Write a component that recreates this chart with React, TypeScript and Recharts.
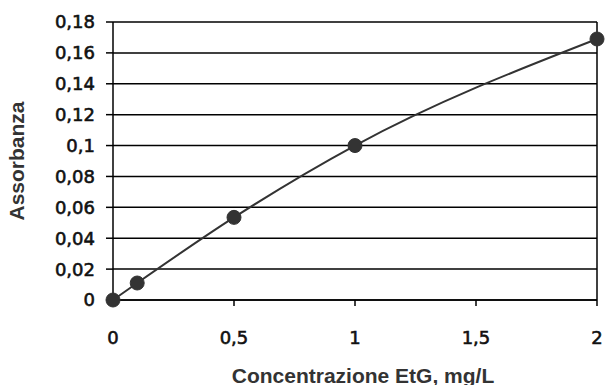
import { LineChart, Line, XAxis, YAxis, CartesianGrid, ReferenceLine, Label } from 'recharts'

// Calibration curve — absorbance vs EtG concentration

const concentrations = [0, 0.1, 0.5, 1, 2]
const absorbances = [0, 0.011, 0.0535, 0.1, 0.169]
const xTicks = [0, 0.5, 1, 1.5, 2]
const yTicks = [0, 0.02, 0.04, 0.06, 0.08, 0.1, 0.12, 0.14, 0.16, 0.18]

const data = concentrations.map((c, i) => ({ x: c, y: absorbances[i] }))

const comma = (v: number) => String(Number(v.toFixed(2))).replace('.', ',')

const tickStyle = { fontSize: 18, fill: '#111', stroke: '#111', strokeWidth: 0.6, fontFamily: 'DejaVu Sans' }
const titleStyle = { fontSize: 21, fill: '#333', fontWeight: 'bold', fontFamily: 'Liberation Sans' }

export default function App() {
  return (
    <div style={{ position: 'absolute', left: 0, top: 0, background: '#fff' }}>
      <LineChart width={606} height={385} data={data} margin={{ top: 22, right: 9, left: 0, bottom: 0 }}>
        <CartesianGrid vertical={false} stroke="#000" strokeWidth={1.5} />
        <ReferenceLine x={2} stroke="#000" strokeWidth={1.5} />
        <XAxis
          dataKey="x"
          type="number"
          domain={[0, 2]}
          ticks={xTicks}
          tickFormatter={comma}
          tick={tickStyle}
          stroke="#000"
          strokeWidth={1.5}
          tickSize={6}
          tickMargin={25}
          height={85}
        >
          <Label value="Concentrazione EtG, mg/L" position="insideBottom" offset={2} dx={8} style={titleStyle} />
        </XAxis>
        <YAxis
          type="number"
          domain={[0, 0.18]}
          ticks={yTicks}
          tickFormatter={comma}
          tick={tickStyle}
          stroke="#000"
          strokeWidth={1.5}
          tickSize={7}
          tickMargin={11}
          width={113}
        >
          <Label value="Assorbanza" angle={-90} position="insideLeft" offset={24} dx={-7} style={{ ...titleStyle, textAnchor: 'middle' }} />
        </YAxis>
        <Line
          type="monotone"
          dataKey="y"
          stroke="#333"
          strokeWidth={2}
          dot={{ r: 7, fill: '#333', stroke: '#333', strokeWidth: 1 }}
          isAnimationActive={false}
        />
      </LineChart>
    </div>
  )
}
